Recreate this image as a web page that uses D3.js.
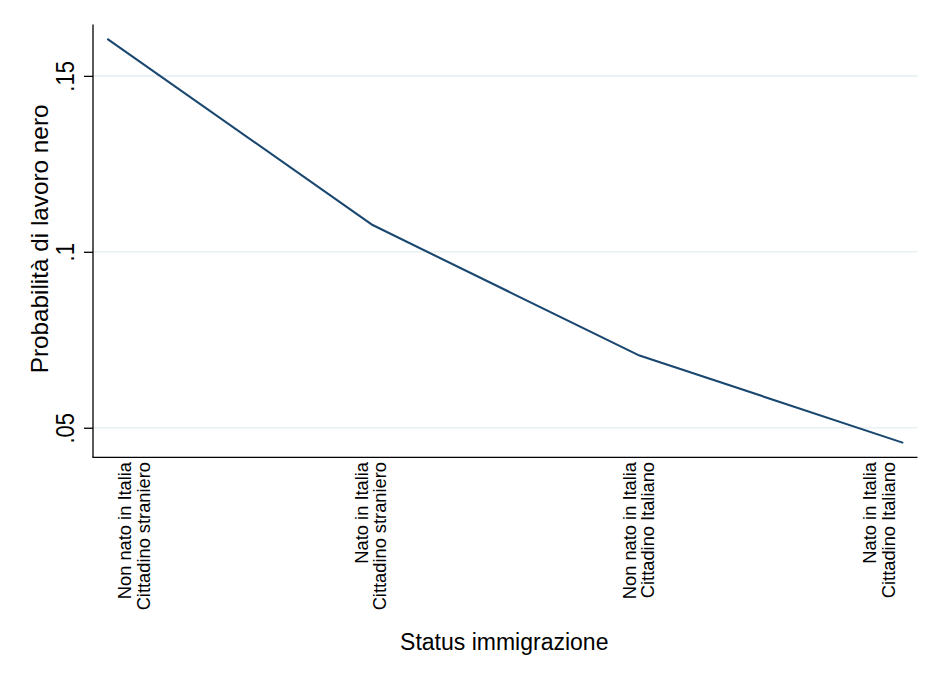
<!DOCTYPE html>
<html>
<head>
<meta charset="utf-8">
<script src="https://cdn.jsdelivr.net/npm/d3@7"></script>
<style>
  html, body { margin: 0; padding: 0; background: #fff; }
  svg { display: block; font-family: "Liberation Sans", Arial, Helvetica, sans-serif; }
</style>
</head>
<body>
<svg id="chart" width="942" height="685"></svg>
<script>
// ---- data ----
const categories = ["c1", "c2", "c3", "c4"];
const labelLine1 = ["Non nato in Italia", "Nato in Italia", "Non nato in Italia", "Nato in Italia"];
const labelLine2 = ["Cittadino straniero", "Cittadino straniero", "Cittadino Italiano", "Cittadino Italiano"];
const probValues = [0.1605, 0.1076, 0.0707, 0.0457];
const yTicks = [0.05, 0.1, 0.15];
const yTickLabels = [".05", ".1", ".15"];
const yTitle = "Probabilità di lavoro nero";
const xTitle = "Status immigrazione";

// ---- layout ----
const plotLeft = 93, plotRight = 917.5, plotTop = 24.5, plotBottom = 457.3;
const labelShift = [26, -2.5, 0, -25];

const svg = d3.select("#chart");

const x = d3.scalePoint().domain(categories).range([107.3, 903.3]);
const y = d3.scaleLinear().domain([0.0416, 0.1646]).range([plotBottom, plotTop]);

// gridlines
svg.append("g").selectAll("line").data(yTicks).join("line")
  .attr("x1", plotLeft).attr("x2", plotRight)
  .attr("y1", d => y(d)).attr("y2", d => y(d))
  .attr("stroke", "#e8eff2").attr("stroke-width", 1.6);

// y axis
const yAxis = d3.axisLeft(y).tickValues(yTicks).tickSize(9)
  .tickFormat((d, i) => yTickLabels[i]);
const gy = svg.append("g").attr("transform", `translate(${plotLeft},0)`).call(yAxis);
gy.select(".domain").remove();
gy.selectAll(".tick line").attr("stroke", "#000").attr("stroke-width", 1.3);
gy.selectAll(".tick text")
  .attr("x", 0).attr("dy", 0)
  .attr("text-anchor", "middle")
  .attr("transform", "translate(-19,0) scale(1.15,1) rotate(-90)")
  .attr("font-size", 22).attr("fill", "#000")
  .attr("font-family", "'Liberation Sans', Arial, sans-serif");
svg.append("line")
  .attr("x1", plotLeft).attr("x2", plotLeft)
  .attr("y1", plotTop).attr("y2", plotBottom)
  .attr("stroke", "#000").attr("stroke-width", 1.3);

// x axis line
svg.append("line")
  .attr("x1", plotLeft - 0.6).attr("x2", plotRight)
  .attr("y1", plotBottom).attr("y2", plotBottom)
  .attr("stroke", "#000").attr("stroke-width", 1.3);

// x tick labels (rotated, two lines)
const xl = svg.append("g").selectAll("g").data(categories).join("g")
  .attr("transform", (d, i) => `translate(${x(d) + labelShift[i]},462) rotate(-90)`);
xl.append("text")
  .attr("text-anchor", "end").attr("x", 0).attr("y", -2)
  .attr("font-size", 18.3).attr("fill", "#000")
  .text((d, i) => labelLine1[i]);
xl.append("text")
  .attr("text-anchor", "end").attr("x", 0).attr("y", 16.3)
  .attr("font-size", 18.3).attr("fill", "#000")
  .text((d, i) => labelLine2[i]);

// line
const lineGen = d3.line().x((d, i) => x(categories[i])).y(d => y(d));
svg.append("path").datum(probValues)
  .attr("d", lineGen)
  .attr("fill", "none").attr("stroke", "#1a476f").attr("stroke-width", 2.1)
  .attr("stroke-linejoin", "round");

// titles
svg.append("text")
  .attr("transform", `translate(48,${(plotTop + plotBottom) / 2 - 2}) rotate(-90)`)
  .attr("text-anchor", "middle").attr("font-size", 24.3).attr("fill", "#000")
  .text(yTitle);
svg.append("text")
  .attr("x", (plotLeft + plotRight) / 2 - 1).attr("y", 650)
  .attr("text-anchor", "middle").attr("font-size", 23).attr("fill", "#000")
  .text(xTitle);
</script>
</body>
</html>
